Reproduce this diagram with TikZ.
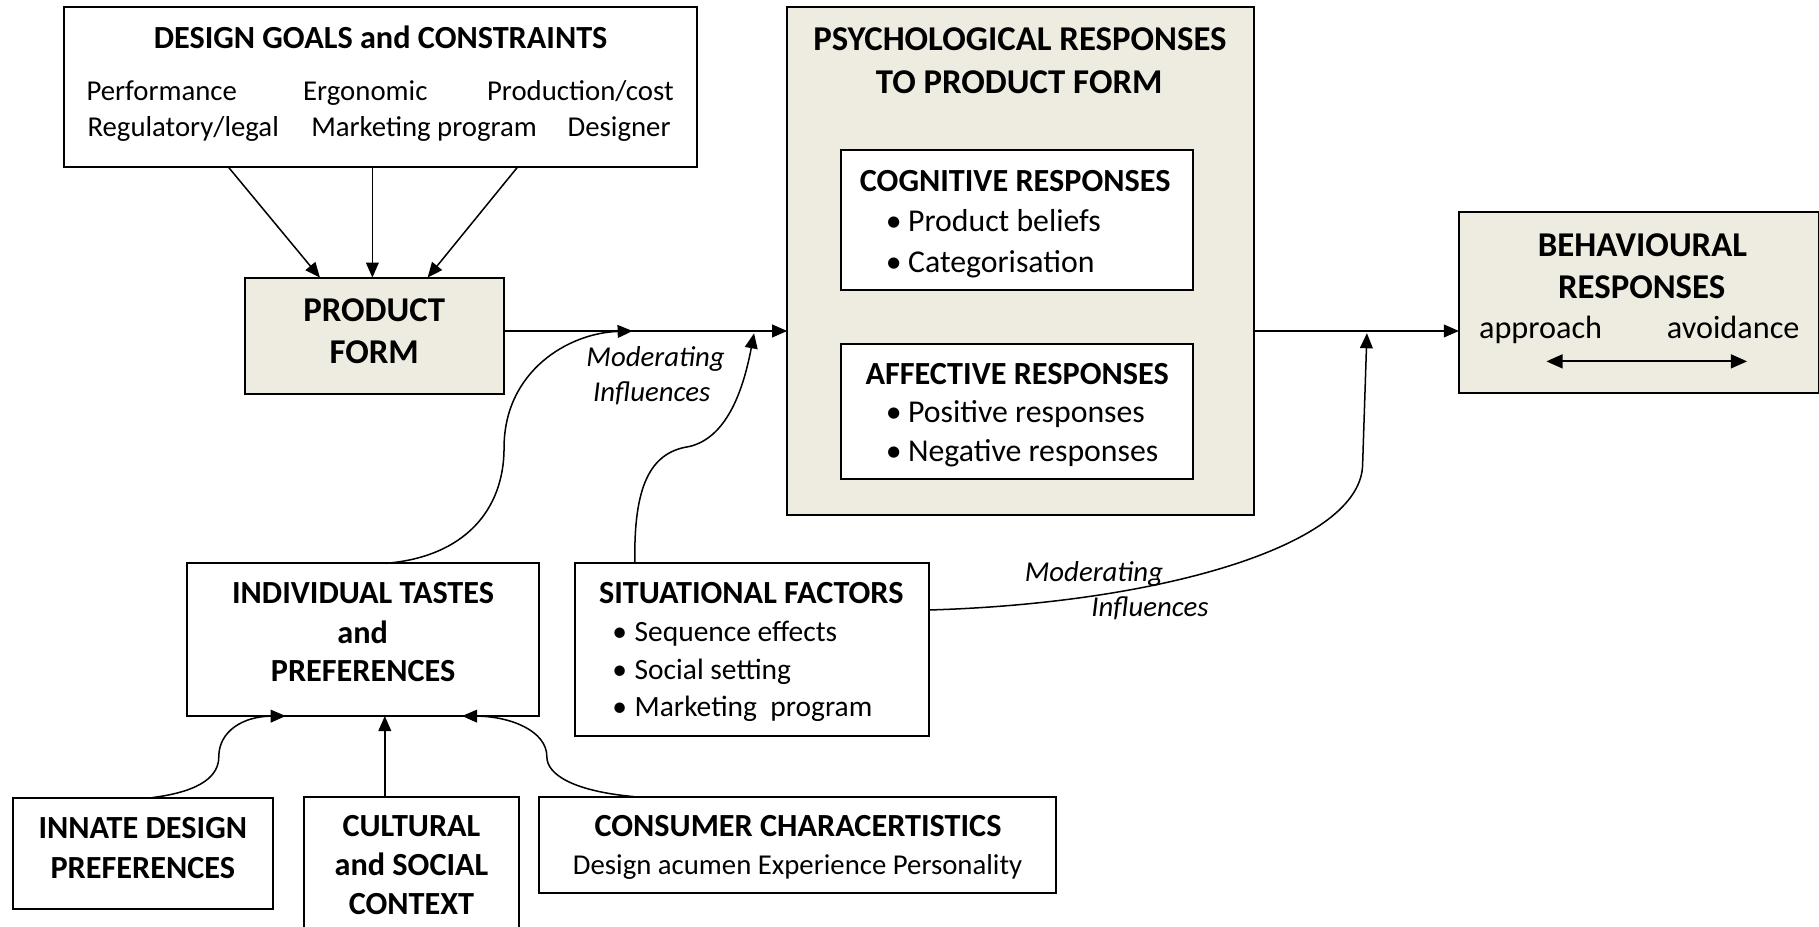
\documentclass[tikz,border=0pt]{standalone}
\usepackage{fontspec}
\setmainfont{Carlito}
\usetikzlibrary{arrows.meta,calc}
\definecolor{tanfill}{HTML}{EEECE1}
\begin{document}
\begin{tikzpicture}[x=0.5pt,y=-0.5pt,
  every node/.style={font=\fontsize{12.4}{15}\selectfont, inner sep=0pt, outer sep=0pt},
  box/.style={draw, line width=0.85pt, rectangle, anchor=center},
  tanbox/.style={box, fill=tanfill},
  txt/.style={anchor=base},
  btxt/.style={anchor=base, font=\fontsize{13.9}{16}\selectfont\bfseries},
  bigtxt/.style={anchor=base, font=\fontsize{15}{18}\selectfont\bfseries},
  itxt/.style={anchor=base, font=\fontsize{12.4}{15}\selectfont\itshape},
  ltxt/.style={anchor=base west},
  mtxt/.style={anchor=base west, font=\fontsize{13.7}{16}\selectfont},
  stxt/.style={anchor=base west, font=\fontsize{12.7}{15}\selectfont},
  btext/.style={anchor=base, font=\fontsize{13.9}{16}\selectfont},
  arr/.style={line width=0.65pt, -{Triangle[length=6.5pt,width=5.5pt]}},
  darr/.style={line width=0.8pt, {Triangle[length=7pt,width=6pt]}-{Triangle[length=7pt,width=6pt]}}]
\newcommand{\bul}[1]{\makebox[9.6pt][l]{•}#1}
\useasboundingbox (0,0) rectangle (1568,799);

% boxes
\node[box, minimum width=272.9pt, minimum height=68.7pt] (design) at (327.9,75) {};
\node[tanbox, minimum width=111.7pt, minimum height=50pt] (prod) at (322.8,289.3) {};
\node[tanbox, minimum width=201.2pt, minimum height=218.6pt] (psych) at (879.8,225) {};
\node[box, fill=white, minimum width=151.9pt, minimum height=60.35pt] (cog) at (876.6,189.55) {};
\node[box, fill=white, minimum width=151.9pt, minimum height=57.8pt] (aff) at (876.6,354.7) {};
\node[tanbox, minimum width=155.2pt, minimum height=78pt] (behav) at (1412.8,261) {};
\node[box, minimum width=152.05pt, minimum height=65.8pt] (indiv) at (312.85,551.4) {};
\node[box, minimum width=152.65pt, minimum height=74.4pt] (situ) at (648.45,560) {};
\node[box, minimum width=111.9pt, minimum height=48.15pt] (innate) at (123.4,735.75) {};
\node[box, minimum width=92.85pt, minimum height=76.65pt] (cult) at (354.65,763.35) {};
\node[box, minimum width=222.85pt, minimum height=41.65pt] (cons) at (687.25,728.35) {};

% texts: design goals
\node[btxt] (dgT) at (328,41.6) {DESIGN GOALS and CONSTRAINTS};
\node[txt] (dg1) at (139.4,87) {Performance};
\node[txt] (dg2) at (314.9,87) {Ergonomic};
\node[txt] (dg3) at (500.3,87) {Production/cost};
\node[txt] (dg4) at (157.9,117.8) {Regulatory/legal};
\node[txt] (dg5) at (365.5,117.8) {Marketing program};
\node[txt] (dg6) at (533.7,117.8) {Designer};
% product form
\node[bigtxt] (pf1) at (322.6,277.3) {PRODUCT};
\node[bigtxt] (pf2) at (322.6,313.2) {FORM};
% psych
\node[bigtxt] (ps1) at (879.2,43.7) {PSYCHOLOGICAL RESPONSES};
\node[bigtxt] (ps2) at (878.6,80.2) {TO PRODUCT FORM};
\node[btxt] (cgT) at (875.1,164.7) {COGNITIVE RESPONSES};
\node[mtxt] (cg1) at (763.6,199.7) {\bul{Product beliefs}};
\node[mtxt] (cg2) at (763.6,234.7) {\bul{Categorisation}};
\node[btxt] (afT) at (876.8,331.5) {AFFECTIVE RESPONSES};
\node[mtxt] (af1) at (763.6,364.5) {\bul{Positive responses}};
\node[mtxt] (af2) at (763.6,398) {\bul{Negative responses}};
% behavioural
\node[bigtxt] (bh1) at (1415.8,221) {BEHAVIOURAL};
\node[bigtxt] (bh2) at (1415.1,257) {RESPONSES};
\node[btext] (bh3) at (1328,291.6) {approach};
\node[btext] (bh4) at (1494,291.6) {avoidance};
\coordinate (da1) at (1333,311.5);
\coordinate (da2) at (1506,311.5);
% individual
\node[btxt] (in1) at (313,520) {INDIVIDUAL TASTES};
\node[btxt] (in2) at (312.6,554.6) {and};
\node[btxt] (in3) at (313,587.6) {PREFERENCES};
% situational
\node[btxt] (siT) at (647.6,520) {SITUATIONAL FACTORS};
\node[stxt] (si1) at (527.9,553) {\bul{Sequence effects}};
\node[stxt] (si2) at (527.9,585.3) {\bul{Social setting}};
\node[stxt] (si3) at (527.9,617.8) {\bul{Marketing\ \ program}};
% bottom row
\node[btxt] (id1) at (123.1,722.7) {INNATE DESIGN};
\node[btxt] (id2) at (123.1,757.1) {PREFERENCES};
\node[btxt] (cu1) at (354.7,721.2) {CULTURAL};
\node[btxt] (cu2) at (354.7,755.1) {and SOCIAL};
\node[btxt] (cu3) at (354.7,788.7) {CONTEXT};
\node[btxt] (co1) at (687.9,721.2) {CONSUMER CHARACERTISTICS};
\node[txt] (co2) at (687.5,753.4) {Design acumen Experience Personality};
% moderating labels
\node[itxt] (mo1) at (565.1,316) {Moderating};
\node[itxt] (mo2) at (561.8,346.2) {Influences};
\node[itxt] (mo3) at (943,501.4) {Moderating};
\node[itxt] (mo4) at (991.3,531.5) {Influences};

% connector points on the main line
\coordinate (m1) at (545.4,285.3);
\coordinate (m2) at (650,287.3);
\coordinate (m3) at (1178.3,287.2);

% design -> product
\draw[arr] ($(design.south)+(-131.3,0)$) -- ($(prod.north)+(-47,0)$);
\draw[arr] ($(design.south)+(-6.9,0)$) -- ($(prod.north)+(-1.8,0)$);
\draw[arr] ($(design.south)+(118.5,0)$) -- ($(prod.north)+(45.8,0)$);
% main flow
\draw[arr] ($(prod.east)+(0,-4)$) -- ($(psych.west)+(0,60.3)$);
\draw[arr] ($(psych.east)+(0,60.3)$) -- ($(behav.west)+(0,24.3)$);
\draw[darr] (da1) -- (da2);
% moderating curves
\draw[arr] ($(indiv.north)+(19.75,0)$) .. controls (400,480) and (434.5,440) .. (434.5,386)
  .. controls (434.5,320) and (490,287) .. (m1);
\draw[arr] ($(situ.north)+(-101.15,0)$) .. controls (546,420) and (560,390) .. (593.7,385)
  .. controls (625,378) and (640,340) .. (m2);
\draw[arr] ($(situ.east)+(0,-34.2)$) .. controls (1000,520) and (1174,470) .. (1174.6,400) -- (m3);
% bottom influences
\draw[arr] ($(innate.north)+(7.4,0)$) .. controls (175,682) and (188.6,668) .. (188.6,652.3)
  .. controls (188.6,630) and (210,617.5) .. ($(indiv.south)+(-66.55,0)$);
\draw[arr] ($(cult.north)+(-22.95,0)$) -- ($(indiv.south)+(18.85,0)$);
\draw[arr] ($(cons.north)+(-140.85,0)$) .. controls (495,682) and (471.4,668) .. (471.4,652.3)
  .. controls (471.4,630) and (440,617.5) .. ($(indiv.south)+(85.45,0)$);
\end{tikzpicture}
\end{document}
